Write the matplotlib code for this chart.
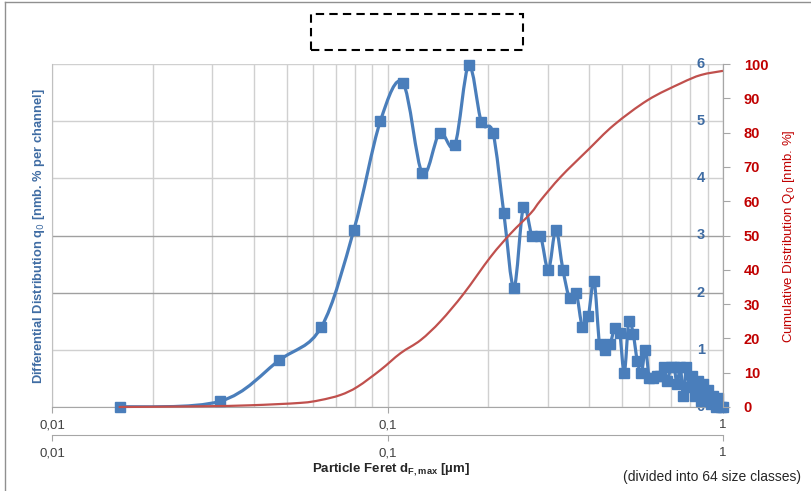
import numpy as np
import matplotlib.pyplot as plt
from matplotlib.path import Path
from matplotlib.patches import PathPatch, Rectangle
from matplotlib.lines import Line2D
from matplotlib.ticker import FixedLocator, FuncFormatter, LogLocator, NullFormatter, NullLocator
from matplotlib.transforms import blended_transform_factory

# 64 size classes (first class at 0 is not shown on log axis), particle feret in um
size_um = [0.0159, 0.0317, 0.0476, 0.0635, 0.0794, 0.0952, 0.1111, 0.1270, 0.1429, 0.1587,
           0.1746, 0.1905, 0.2063, 0.2222, 0.2381, 0.2540, 0.2698, 0.2857, 0.3016, 0.3175,
           0.3333, 0.3492, 0.3651, 0.3810, 0.3968, 0.4127, 0.4286, 0.4444, 0.4603, 0.4762,
           0.4921, 0.5079, 0.5238, 0.5397, 0.5556, 0.5714, 0.5873, 0.6032, 0.6190, 0.6349,
           0.6508, 0.6667, 0.6825, 0.6984, 0.7143, 0.7302, 0.7460, 0.7619, 0.7778, 0.7937,
           0.8095, 0.8254, 0.8413, 0.8571, 0.8730, 0.8889, 0.9048, 0.9206, 0.9365, 0.9524,
           0.9683, 0.9841, 1.0000]

# differential distribution q0 [nmb. % per channel]
q0 = [0.0, 0.1, 0.82, 1.4, 3.1, 5.0, 5.67, 4.09, 4.79, 4.58,
      5.98, 4.98, 4.79, 3.39, 2.09, 3.49, 2.99, 2.99, 2.40, 3.10,
      2.40, 1.90, 1.99, 1.40, 1.59, 2.20, 1.10, 1.00, 1.10, 1.38,
      1.30, 0.60, 1.50, 1.28, 0.80, 0.60, 1.00, 0.50, 0.50, 0.55,
      0.55, 0.70, 0.45, 0.70, 0.70, 0.40, 0.70, 0.20, 0.70, 0.35,
      0.55, 0.20, 0.45, 0.10, 0.40, 0.15, 0.30, 0.05, 0.20, 0.0,
      0.15, 0.0, 0.0]

# cumulative distribution Q0 [nmb. %]
cum_x = [0.0158, 0.0277, 0.039, 0.055, 0.063, 0.0724, 0.0814, 0.0953, 0.1094, 0.1255,
         0.1439, 0.1686, 0.2030, 0.2330, 0.2673, 0.2862, 0.3283, 0.3954, 0.4728, 0.5972,
         0.7493, 0.8597, 1.0]
cum_q = [0, 0.2, 0.5, 1.2, 2.0, 3.5, 5.9, 10.8, 15.7, 19.5,
         25.0, 33.0, 43.8, 50.6, 56.5, 60.3, 67.1, 74.9, 82.2, 89.5,
         94.4, 96.8, 98.0]

q_ticks = [0, 1, 2, 3, 4, 5, 6]
cum_ticks = list(range(0, 101, 10))
x_ticks = [0.01, 0.1, 1]
x_ticklabels = ['0,01', '0,1', '1']

blue = '#4A7EBB'
blue_txt = '#3F6CA3'
red_line = '#C0504D'
red_txt = '#C00000'
grid_c = '#D0D0D0'
axis_c = '#A6A6A6'

plt.rcParams['font.family'] = ['Liberation Sans', 'DejaVu Sans']


def smooth_path(a, xs, ys):
    # excel style smoothed line: catmull-rom in screen space
    pts = a.transData.transform(np.column_stack([xs, ys]))
    n = len(pts)
    verts = [pts[0]]
    codes = [Path.MOVETO]
    for i in range(n - 1):
        p0 = pts[max(i - 1, 0)]
        p1 = pts[i]
        p2 = pts[i + 1]
        p3 = pts[min(i + 2, n - 1)]
        verts += [p1 + (p2 - p0) / 6, p2 - (p3 - p1) / 6, p2]
        codes += [Path.CURVE4] * 3
    return Path(a.transData.inverted().transform(np.array(verts)), codes)


def xlab(v, pos):
    return x_ticklabels[x_ticks.index(v)] if v in x_ticks else ''


fig = plt.figure(figsize=(8.11, 4.91), dpi=100)
ax = fig.add_axes([52 / 811, 1 - 407 / 491, 671 / 811, 343 / 491])
ax.set_xscale('log')
ax.set_xlim(0.01, 1)
ax.set_ylim(0, 6)

ax.xaxis.set_major_locator(FixedLocator(x_ticks))
ax.xaxis.set_major_formatter(FuncFormatter(xlab))
ax.xaxis.set_minor_locator(LogLocator(base=10, subs=np.arange(2, 10)))
ax.xaxis.set_minor_formatter(NullFormatter())
ax.tick_params(axis='x', which='major', length=4, color=axis_c, labelsize=9.5, labelcolor='#404040', pad=5)
ax.tick_params(axis='x', which='minor', length=0)
ax.set_yticks(q_ticks)
ax.tick_params(axis='y', length=0, labelleft=False)
ax.grid(True, which='both', axis='x', color=grid_c, lw=1)
ax.grid(True, axis='y', color=grid_c, lw=1)
for gl, v in zip(ax.yaxis.get_gridlines(), q_ticks):
    if v in (2, 3):
        gl.set_color('#A0A0A0')
ax.set_axisbelow(True)
for s in ['left', 'bottom', 'right']:
    ax.spines[s].set_color(axis_c)
ax.spines['left'].set_color('#C0C0C0')
ax.spines['top'].set_visible(False)

# blue value labels sit inside the plot near the right edge
tr = blended_transform_factory(ax.transAxes, ax.transData)
for v in q_ticks:
    ax.text(0.967, v, str(v), transform=tr, ha='center', va='center',
            color=blue_txt, fontsize=10.5, fontweight='bold', zorder=1)

ax.add_patch(PathPatch(smooth_path(ax, size_um, q0), fill=False, ec=blue, lw=2.3, zorder=3))
ax.plot(size_um, q0, ls='none', marker='s', ms=6.5, color=blue, clip_on=False, zorder=4)

ax2 = ax.twinx()
ax2.set_ylim(0, 100)
ax2.set_yticks(cum_ticks)
ax2.tick_params(axis='y', length=5, color=axis_c, labelcolor=red_txt, labelsize=10.5, pad=10)
for lab in ax2.get_yticklabels():
    lab.set_fontweight('bold')
for s in ['left', 'top', 'bottom']:
    ax2.spines[s].set_visible(False)
ax2.spines['right'].set_color(axis_c)
ax2.add_patch(PathPatch(smooth_path(ax2, cum_x, cum_q), fill=False, ec=red_line, lw=1.6, clip_on=False))

# second x axis row below the first one
sec = ax.secondary_xaxis(-28 / 343)
sec.xaxis.set_major_locator(FixedLocator(x_ticks))
sec.xaxis.set_major_formatter(FuncFormatter(xlab))
sec.xaxis.set_minor_locator(NullLocator())
sec.tick_params(axis='x', length=4, color=axis_c, labelsize=9.5, labelcolor='#404040', pad=5)
sec.spines['bottom'].set_color(axis_c)

fig.text(39 / 811, 1 - 236 / 491, 'Differential Distribution q$_0$ [nmb. % per channel]',
         rotation=90, ha='center', va='center', color=blue_txt, fontsize=9.3, fontweight='bold',
         family=['Liberation Sans Narrow', 'Liberation Sans'])
fig.text(789 / 811, 1 - 236 / 491, 'Cumulative Distribution Q$_0$ [nmb. %]',
         rotation=90, ha='center', va='center', color=red_txt, fontsize=9.5,
         family=['Liberation Sans Narrow', 'Liberation Sans'])
fig.text(391 / 811, 1 - 470 / 491, 'Particle Feret d$_\\mathregular{F,max}$ [µm]',
         ha='center', va='center', fontsize=9.5, fontweight='bold', color='#262626')
fig.text(801 / 811, 1 - 477 / 491, '(divided into 64 size classes)',
         ha='right', va='center', fontsize=10, color='#262626')

# empty dashed title box and chart frame
fig.add_artist(Rectangle((311 / 811, 1 - 50 / 491), 212 / 811, 36 / 491, transform=fig.transFigure,
                         fill=False, ec='black', lw=1.5, ls=(0, (4, 2.5))))
fig.add_artist(Line2D([5 / 811, 5 / 811], [0, 1 - 2 / 491], color='#909090', lw=1))
fig.add_artist(Line2D([5 / 811, 1], [1 - 2 / 491, 1 - 2 / 491], color='#909090', lw=1))

fig.savefig('out.png', dpi=100)
